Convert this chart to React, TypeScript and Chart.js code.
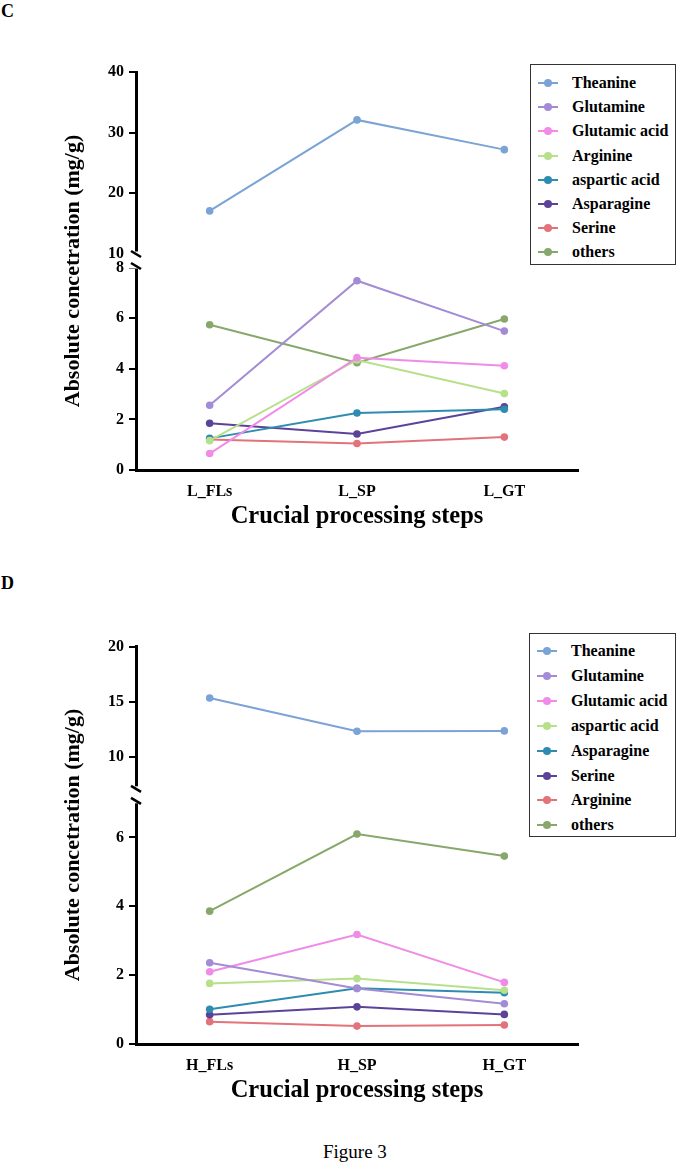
import React, { useEffect, useRef } from 'react';
import { Chart, registerables } from 'chart.js';

Chart.register(...registerables);

const FONT = "'Liberation Serif', 'Times New Roman', Times, serif";

// ---------- Panel C ----------
const C_STEPS = ['L_FLs', 'L_SP', 'L_GT'];
const C_NAMES = ['Theanine', 'Glutamine', 'Glutamic acid', 'Arginine', 'aspartic acid', 'Asparagine', 'Serine', 'others'];
const C_THEANINE = [17.1, 32.1, 27.2];
const C_GLUTAMINE = [2.56, 7.48, 5.49];
const C_GLUTAMIC = [0.65, 4.44, 4.12];
const C_ARGININE = [1.16, 4.35, 3.02];
const C_ASPARTIC = [1.25, 2.25, 2.4];
const C_ASPARAGINE = [1.85, 1.42, 2.5];
const C_SERINE = [1.21, 1.05, 1.3];
const C_OTHERS = [5.74, 4.24, 5.97];
const C_TOP_TICKS = [10, 20, 30, 40];
const C_BOTTOM_TICKS = [0, 2, 4, 6, 8];

// ---------- Panel D ----------
const D_STEPS = ['H_FLs', 'H_SP', 'H_GT'];
const D_NAMES = ['Theanine', 'Glutamine', 'Glutamic acid', 'aspartic acid', 'Asparagine', 'Serine', 'Arginine', 'others'];
const D_THEANINE = [15.36, 12.35, 12.38];
const D_GLUTAMINE = [2.36, 1.61, 1.17];
const D_GLUTAMIC = [2.1, 3.18, 1.79];
const D_ASPARTIC = [1.76, 1.9, 1.56];
const D_ASPARAGINE = [1.01, 1.62, 1.49];
const D_SERINE = [0.85, 1.08, 0.86];
const D_ARGININE = [0.65, 0.52, 0.55];
const D_OTHERS = [3.86, 6.1, 5.46];
const D_TOP_TICKS = [10, 15, 20];
const D_BOTTOM_TICKS = [0, 2, 4, 6];

const COLORS = ['#7ba3d6', '#a48bd6', '#f08be8', '#b6e08a', '#2e8cb0', '#5a4399', '#e3737a', '#87a86a'];

const Y_TITLE = 'Absolute concetration (mg/g)';
const X_TITLE = 'Crucial processing steps';

type Panel = {
  steps: string[];
  names: string[];
  series: number[][];
  topTicks: number[];
  bottomTicks: number[];
  topRange: [number, number];
  bottomRange: [number, number];
  topWeight: number;
  bottomWeight: number;
  padTop: number;
};

const PANEL_C: Panel = {
  steps: C_STEPS,
  names: C_NAMES,
  series: [C_THEANINE, C_GLUTAMINE, C_GLUTAMIC, C_ARGININE, C_ASPARTIC, C_ASPARAGINE, C_SERINE, C_OTHERS],
  topTicks: C_TOP_TICKS,
  bottomTicks: C_BOTTOM_TICKS,
  topRange: [9.0, 40],
  bottomRange: [0, 8.3],
  topWeight: 188,
  bottomWeight: 210,
  padTop: 72,
};

const PANEL_D: Panel = {
  steps: D_STEPS,
  names: D_NAMES,
  series: [D_THEANINE, D_GLUTAMINE, D_GLUTAMIC, D_ASPARTIC, D_ASPARAGINE, D_SERINE, D_ARGININE, D_OTHERS],
  topTicks: D_TOP_TICKS,
  bottomTicks: D_BOTTOM_TICKS,
  topRange: [6.6, 20],
  bottomRange: [0, 7.24],
  topWeight: 148,
  bottomWeight: 249,
  padTop: 72.7,
};

const CANVAS_W = 677;
const CANVAS_H = 540;

const breakPlugin = {
  id: 'axisBreak',
  afterDraw(chart: any) {
    const top = chart.scales.yTop;
    const ctx = chart.ctx;
    const x = chart.chartArea.left;
    const b = top.bottom;
    const half = 6;
    ctx.save();
    ctx.fillStyle = '#ffffff';
    ctx.fillRect(x - 9, b - half - 2.5, 12.5, 2 * half + 5);
    ctx.strokeStyle = '#000';
    ctx.lineWidth = 2.6;
    ctx.lineCap = 'butt';
    [b - half, b + half].forEach((y) => {
      ctx.beginPath();
      ctx.moveTo(x - 5, y - 3);
      ctx.lineTo(x + 5, y + 3);
      ctx.stroke();
    });
    ctx.restore();
  },
};

function yAxis(p: Panel, which: 'top' | 'bottom') {
  const ticks = which === 'top' ? p.topTicks : p.bottomTicks;
  const range = which === 'top' ? p.topRange : p.bottomRange;
  return {
    type: 'linear',
    position: 'left',
    stack: 'v',
    stackWeight: which === 'top' ? p.topWeight : p.bottomWeight,
    weight: which === 'top' ? 2 : 1,
    min: range[0],
    max: range[1],
    afterBuildTicks: (scale: any) => {
      scale.ticks = ticks.map((v) => ({ value: v }));
    },
    afterFit: (scale: any) => {
      scale.width = 40;
    },
    grid: { drawOnChartArea: false, drawTicks: true, tickLength: 7, lineWidth: 2, color: '#000' },
    border: { display: true, width: 3, color: '#000' },
    ticks: { color: '#000', padding: 5, font: { family: FONT, size: 16, weight: 'bold' } },
  };
}

function buildConfig(p: Panel): any {
  return {
    type: 'line',
    data: {
      labels: p.steps,
      datasets: p.series.map((vals, i) => ({
        label: p.names[i],
        data: vals,
        yAxisID: i === 0 ? 'yTop' : 'yBot',
        borderColor: COLORS[i],
        backgroundColor: COLORS[i],
        pointBackgroundColor: COLORS[i],
        pointBorderColor: COLORS[i],
        borderWidth: 2,
        pointRadius: 3.8,
        pointBorderWidth: 0,
        tension: 0,
        fill: false,
      })),
    },
    options: {
      responsive: false,
      animation: false,
      devicePixelRatio: 1,
      layout: { padding: { top: p.padTop, left: 96, right: 99, bottom: 0 } },
      plugins: { legend: { display: false }, tooltip: { enabled: false } },
      scales: {
        x: {
          type: 'category',
          offset: true,
          afterFit: (scale: any) => {
            scale.height = 70;
          },
          grid: { drawOnChartArea: false, drawTicks: false },
          border: { display: true, width: 3, color: '#000' },
          ticks: { color: '#000', padding: 12, font: { family: FONT, size: 16, weight: 'bold' } },
          title: {
            display: true,
            text: X_TITLE,
            color: '#000',
            font: { family: FONT, size: 24.5, weight: 'bold' },
            padding: { top: 0, bottom: 8.3 },
          },
        },
        yBot: yAxis(p, 'bottom'),
        yTop: yAxis(p, 'top'),
      },
    },
    plugins: [breakPlugin],
  };
}

function PanelChart({ panel, top }: { panel: Panel; top: number }) {
  const ref = useRef<HTMLCanvasElement>(null);
  useEffect(() => {
    if (!ref.current) return;
    const chart = new Chart(ref.current, buildConfig(panel));
    return () => chart.destroy();
  }, [panel]);
  return (
    <canvas
      ref={ref}
      width={CANVAS_W}
      height={CANVAS_H}
      style={{ position: 'absolute', left: 0, top, width: CANVAS_W, height: CANVAS_H }}
    />
  );
}

function Legend({ names, left, top, width, height, firstY, step }: any) {
  return (
    <div
      style={{
        position: 'absolute',
        left,
        top,
        width,
        height,
        border: '1px solid #333',
        boxSizing: 'border-box',
        background: '#fff',
      }}
    >
      {names.map((n: string, i: number) => (
        <div
          key={n}
          style={{
            position: 'absolute',
            left: 0,
            top: firstY + i * step - 12,
            height: 24,
            display: 'flex',
            alignItems: 'center',
          }}
        >
          <div style={{ position: 'relative', width: 20, height: 24, marginLeft: 7 }}>
            <div style={{ position: 'absolute', left: 0, top: 11, width: 20, height: 2, background: COLORS[i] }} />
            <div
              style={{
                position: 'absolute',
                left: 6,
                top: 8,
                width: 8,
                height: 8,
                borderRadius: '50%',
                background: COLORS[i],
              }}
            />
          </div>
          <div
            style={{
              marginLeft: 14,
              fontFamily: FONT,
              fontWeight: 'bold',
              fontSize: 16,
              color: '#000',
              whiteSpace: 'nowrap',
              lineHeight: '24px',
            }}
          >
            {n}
          </div>
        </div>
      ))}
    </div>
  );
}

function YTitle({ cy }: { cy: number }) {
  return (
    <div
      style={{
        position: 'absolute',
        left: 72,
        top: cy,
        transform: 'translate(-50%, -50%) rotate(-90deg)',
        fontFamily: FONT,
        fontWeight: 'bold',
        fontSize: 22,
        whiteSpace: 'nowrap',
        color: '#000',
        lineHeight: '24px',
      }}
    >
      {Y_TITLE}
    </div>
  );
}

export default function App() {
  return (
    <div
      style={{
        position: 'absolute',
        left: 0,
        top: 0,
        width: 677,
        height: 1170,
        background: '#fff',
        overflow: 'hidden',
      }}
    >
      <div style={{ position: 'absolute', left: 1, top: 2, fontFamily: FONT, fontWeight: 'bold', fontSize: 18, lineHeight: '18px' }}>C</div>
      <div style={{ position: 'absolute', left: 1, top: 574, fontFamily: FONT, fontWeight: 'bold', fontSize: 18, lineHeight: '18px' }}>D</div>
      <PanelChart panel={PANEL_C} top={0} />
      <PanelChart panel={PANEL_D} top={574} />
      <YTitle cy={271} />
      <YTitle cy={845} />
      <Legend names={C_NAMES} left={530} top={64} width={146} height={201} firstY={18} step={24.2} />
      <Legend names={D_NAMES} left={529} top={633} width={147} height={204} firstY={17} step={24.9} />
      <div
        style={{
          position: 'absolute',
          left: 323,
          top: 1140,
          fontFamily: FONT,
          fontSize: 19,
          lineHeight: '24px',
          color: '#000',
          whiteSpace: 'nowrap',
        }}
      >
        Figure 3
      </div>
    </div>
  );
}
